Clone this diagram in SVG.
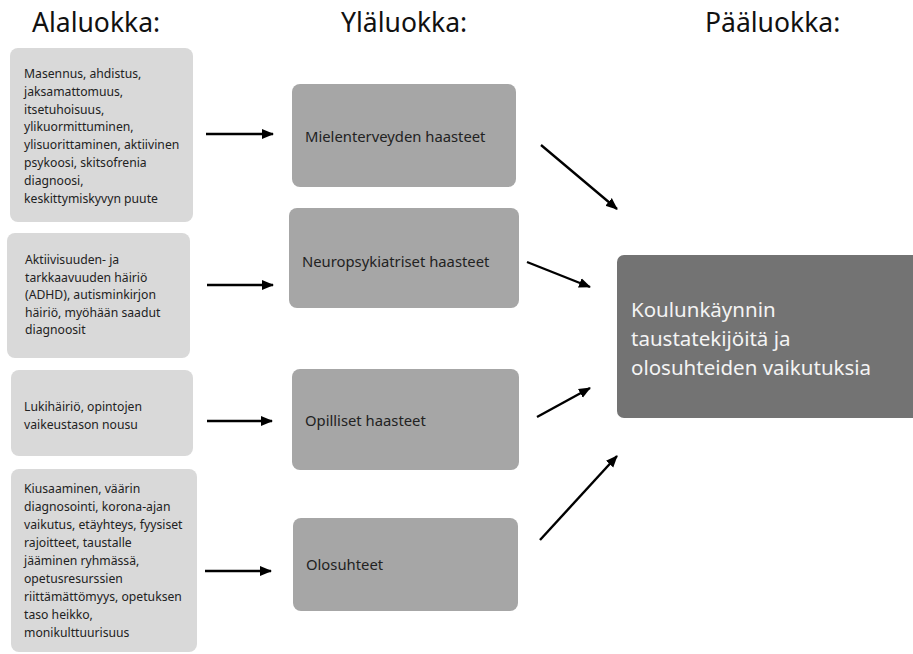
<svg xmlns="http://www.w3.org/2000/svg" width="913" height="654" viewBox="0 0 913 654">
<style>
.title{font-family:"Noto Sans","Open Sans",sans-serif;font-size:26.5px;fill:#111}
.small{font-family:"Noto Sans","Open Sans",sans-serif;font-size:12.2px;fill:#222}
.mid{font-family:"Noto Sans","Open Sans",sans-serif;font-size:14.8px;fill:#222}
.main{font-family:"Noto Sans","Open Sans",sans-serif;font-size:20.5px;fill:#f4f4f4}
.lbox{fill:#d9d9d9}
.mbox{fill:#a6a6a6}
.rbox{fill:#737373}
.conn{stroke:#000;stroke-width:2.4;fill:none;marker-end:url(#ah)}
</style>
<defs>
<marker id="ah" markerUnits="userSpaceOnUse" markerWidth="12" markerHeight="12" viewBox="0 0 12 12" refX="11" refY="6" orient="auto">
<path d="M0,1 L12,6 L0,11 z" fill="#000"/>
</marker>
</defs>
<rect width="913" height="654" fill="#fff"/>
<g id="headers">
<text class="title" x="32" y="32">Alaluokka:</text>
<text class="title" x="341" y="32">Yläluokka:</text>
<text class="title" x="705" y="32">Pääluokka:</text>
</g>
<g id="sub1">
<rect class="lbox" x="10" y="48" width="183" height="174" rx="8"/>
<text class="small"><tspan x="24" y="78">Masennus, ahdistus,</tspan><tspan x="24" y="95.8">jaksamattomuus,</tspan><tspan x="24" y="113.6">itsetuhoisuus,</tspan><tspan x="24" y="131.4">ylikuormittuminen,</tspan><tspan x="24" y="149.2">ylisuorittaminen, aktiivinen</tspan><tspan x="24" y="167">psykoosi, skitsofrenia</tspan><tspan x="24" y="184.8">diagnoosi,</tspan><tspan x="24" y="202.6">keskittymiskyvyn puute</tspan></text>
</g>
<g id="sub2">
<rect class="lbox" x="7" y="233" width="183" height="125" rx="8"/>
<text class="small"><tspan x="25" y="264">Aktiivisuuden- ja</tspan><tspan x="25" y="281.5">tarkkaavuuden häiriö</tspan><tspan x="25" y="299">(ADHD), autisminkirjon</tspan><tspan x="25" y="316.5">häiriö, myöhään saadut</tspan><tspan x="25" y="334">diagnoosit</tspan></text>
</g>
<g id="sub3">
<rect class="lbox" x="11" y="370" width="182" height="86" rx="8"/>
<text class="small"><tspan x="24" y="411">Lukihäiriö, opintojen</tspan><tspan x="24" y="428.5">vaikeustason nousu</tspan></text>
</g>
<g id="sub4">
<rect class="lbox" x="11" y="469" width="186" height="183" rx="8"/>
<text class="small"><tspan x="24" y="493">Kiusaaminen, väärin</tspan><tspan x="24" y="511">diagnosointi, korona-ajan</tspan><tspan x="24" y="529">vaikutus, etäyhteys, fyysiset</tspan><tspan x="24" y="547">rajoitteet, taustalle</tspan><tspan x="24" y="565">jääminen ryhmässä,</tspan><tspan x="24" y="583">opetusresurssien</tspan><tspan x="24" y="601">riittämättömyys, opetuksen</tspan><tspan x="24" y="619">taso heikko,</tspan><tspan x="24" y="637">monikulttuurisuus</tspan></text>
</g>
<g id="mid1">
<rect class="mbox" x="292" y="84" width="224" height="103" rx="8"/>
<text class="mid" x="305" y="141.5">Mielenterveyden haasteet</text>
</g>
<g id="mid2">
<rect class="mbox" x="289" y="208" width="230" height="100" rx="8"/>
<text class="mid" x="302" y="266.5">Neuropsykiatriset haasteet</text>
</g>
<g id="mid3">
<rect class="mbox" x="292" y="369" width="227" height="101" rx="8"/>
<text class="mid" x="305" y="425.5">Opilliset haasteet</text>
</g>
<g id="mid4">
<rect class="mbox" x="293" y="518" width="225" height="93" rx="8"/>
<text class="mid" x="306" y="570">Olosuhteet</text>
</g>
<g id="main">
<rect class="rbox" x="617" y="255" width="310" height="163" rx="7"/>
<text class="main"><tspan x="631" y="316.5">Koulunkäynnin</tspan><tspan x="631" y="345.5">taustatekijöitä ja</tspan><tspan x="631" y="374.5">olosuhteiden vaikutuksia</tspan></text>
</g>
<g id="connectors">
<line class="conn" x1="206" y1="134" x2="273" y2="134"/>
<line class="conn" x1="207" y1="285" x2="273" y2="285"/>
<line class="conn" x1="207" y1="421" x2="272" y2="421"/>
<line class="conn" x1="205" y1="571" x2="271" y2="571"/>
<line class="conn" x1="541" y1="145" x2="617" y2="209"/>
<line class="conn" x1="527" y1="262" x2="590" y2="287"/>
<line class="conn" x1="537" y1="417" x2="590" y2="388"/>
<line class="conn" x1="540" y1="540" x2="617" y2="456"/>
</g>
</svg>
